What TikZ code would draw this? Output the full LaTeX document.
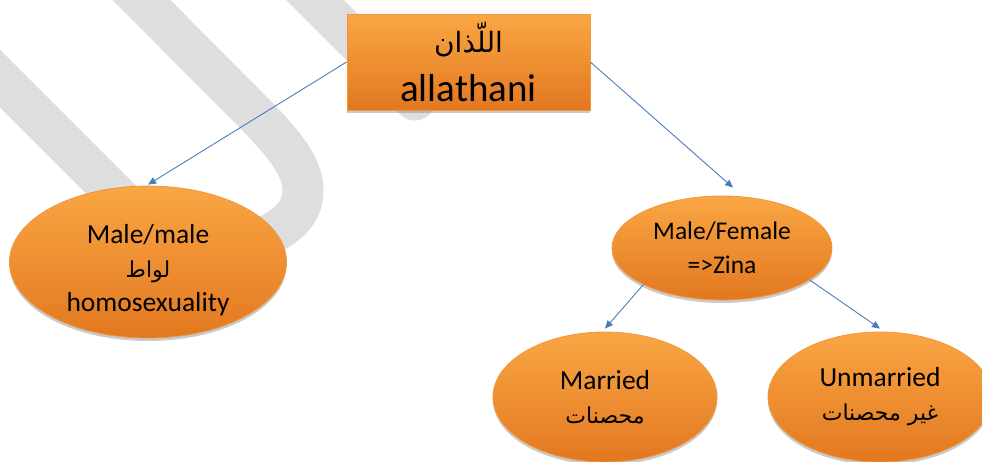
\documentclass[tikz,border=0pt]{standalone}
\usepackage{fontspec}
\setmainfont{Carlito}
\newfontfamily\arabicfont[Script=Arabic]{DejaVu Sans}
\TeXXeTstate=1
\usetikzlibrary{arrows.meta,shapes.geometric,shadows}
\definecolor{bandgray}{RGB}{222,222,222}
\definecolor{linkblue}{RGB}{74,126,187}
\definecolor{otop}{RGB}{250,166,68}
\definecolor{obot}{RGB}{226,120,32}
\definecolor{oedge}{RGB}{240,150,60}
\tikzset{
  band/.style={draw=bandgray, line width=41pt},
  orangefill/.style={top color=otop, bottom color=obot, draw=oedge, line width=0.8pt,
    drop shadow={shadow xshift=0pt, shadow yshift=-3pt, opacity=0.35, fill=black!60}},
  topbox/.style={orangefill, rectangle, minimum width=243pt, minimum height=96pt, inner sep=0pt, align=center},
  oval/.style={orangefill, ellipse, inner sep=0pt, align=center, font={\fontsize{27.5}{34}\selectfont}},
  link/.style={draw=linkblue, line width=0.9pt, -{Triangle[length=8pt,width=7pt]}},
}
\newcommand{\arline}[1]{{\arabicfont\fontsize{22}{34}\selectfont\beginR #1\endR}}
\begin{document}
\begin{tikzpicture}[x=1pt,y=-1pt]
\useasboundingbox (0,0) rectangle (982,461);
% background bands
\draw[band] (121.5,-20) -- (228,87) .. controls (270,129) and (303,160) .. (303,190)
  .. controls (303,215) and (285,228) .. (255,242) -- (200,270);
\draw[band] (-30,48.5) -- (200,278.5);
\draw[band, line cap=round] (295,-20) -- (415,100);
% nodes
\node[topbox, font={\fontsize{39}{40}\selectfont}] (top) at (468.5,62)
  {{\arabicfont\fontsize{28}{30}\selectfont\beginR اللّذان\endR}\\[9pt]allathani};
\node[oval, minimum width=277pt, minimum height=152pt] (left) at (148,262) {};
\node[align=center, font={\fontsize{27.5}{34}\selectfont}] (lefttext) at (148,270)
  {Male/male\\\arline{لواط}\\homosexuality};
\node[oval, minimum width=220pt, minimum height=104pt, font={\fontsize{25.5}{34}\selectfont}] (mf) at (722,248)
  {Male/Female\\=>Zina};
\node[oval, minimum width=224pt, minimum height=130pt] (mar) at (605,397)
  {Married\\\arline{محصنات}};
\node[oval, minimum width=224pt, minimum height=130pt] (unm) at (880,397)
  {Unmarried\\\arline{غير محصنات}};
% connectors
\draw[link] (top.west) -- ([yshift=1pt]left.north);
\draw[link] (top.east) -- ([xshift=11pt,yshift=8pt]mf.north);
\draw[link] (mf.205) -- ([yshift=3pt]mar.north);
\draw[link] (mf.-20) -- ([yshift=3pt]unm.north);
\end{tikzpicture}
\end{document}
